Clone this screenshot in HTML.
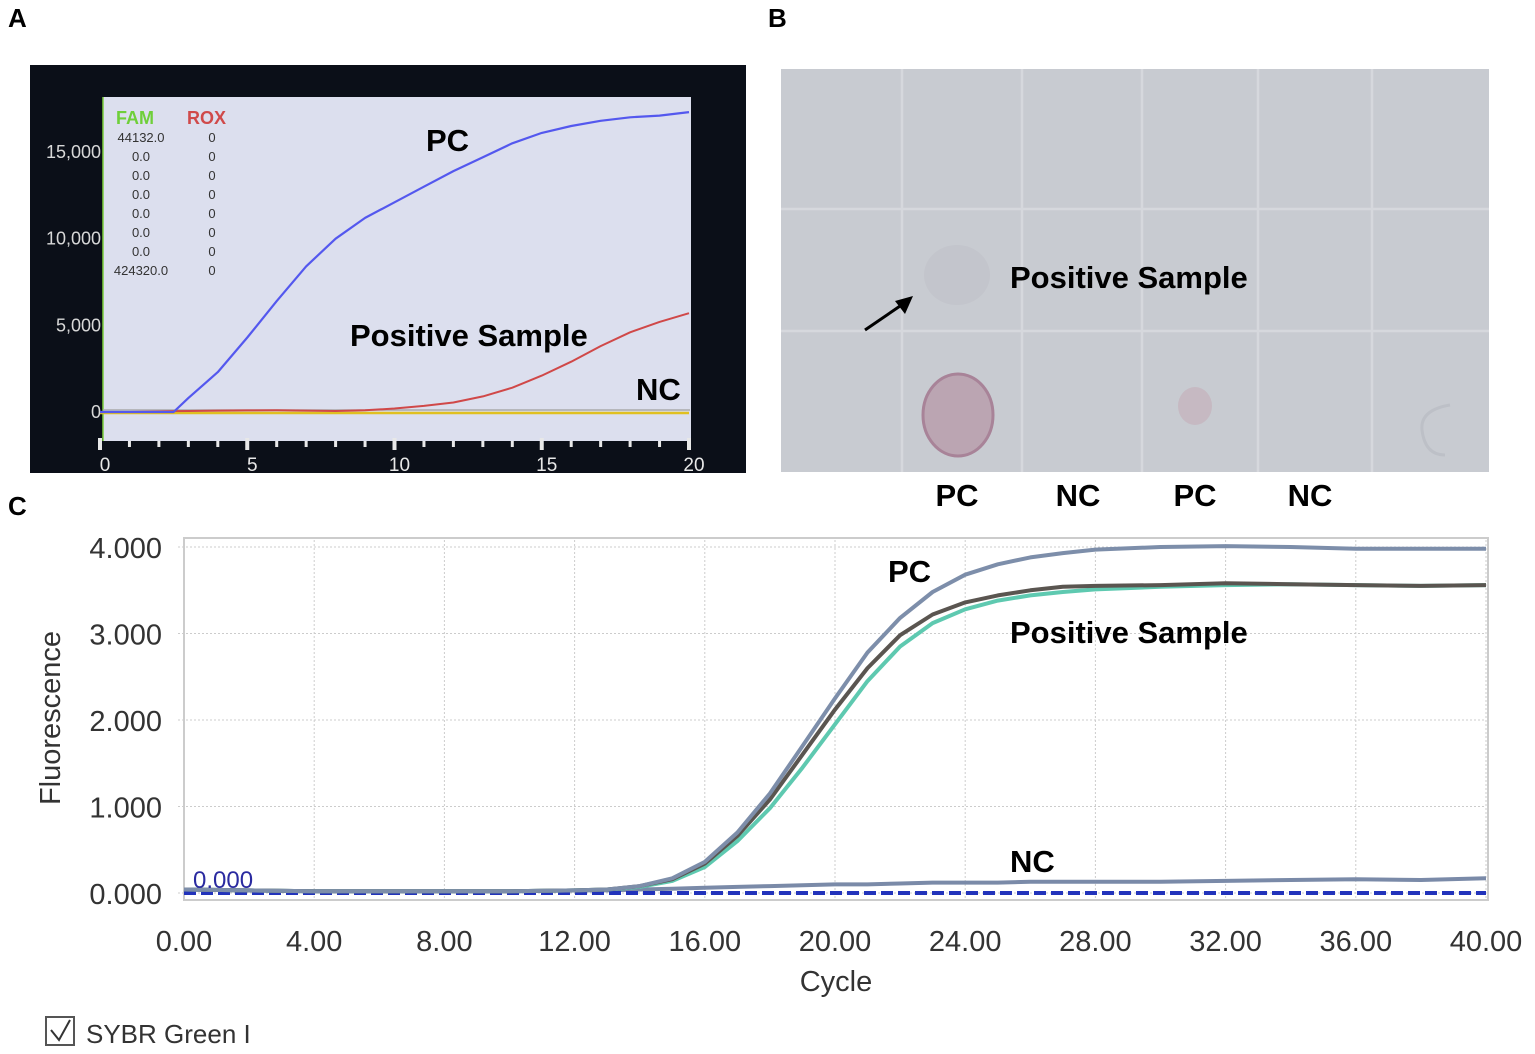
<!DOCTYPE html>
<html><head><meta charset="utf-8"><style>
html,body{margin:0;padding:0;background:#fff;}
svg{display:block;font-family:"Liberation Sans",Arial,sans-serif;}
</style></head><body>
<svg id="fig" width="1535" height="1054" viewBox="0 0 1535 1054">
<g font-weight="bold" font-size="26">
<text x="8" y="27">A</text>
<text x="768" y="27">B</text>
<text x="8" y="515">C</text>
</g>
<!-- Panel A -->
<g id="panelA">
<rect x="30" y="65" width="716" height="408" fill="#0b0f18"/>
<rect x="103" y="97" width="588" height="344" fill="#dcdfee"/>
<line x1="103" y1="97" x2="103" y2="441" stroke="#7ccf3c" stroke-width="1.5"/>
<g id="aYT" fill="#d8d8d8" font-size="18" text-anchor="end"></g>
<g id="aXT" fill="#e8e8e8" font-size="19" text-anchor="middle"></g>
<g font-size="18" font-weight="bold">
<text x="116" y="124" fill="#6fcf3a">FAM</text>
<text x="187" y="124" fill="#d04a4a">ROX</text>
</g>
<g font-size="13" fill="#333">
<text x="141" y="142" text-anchor="middle">44132.0</text><text x="212" y="142" text-anchor="middle">0</text>
<text x="141" y="161" text-anchor="middle">0.0</text><text x="212" y="161" text-anchor="middle">0</text>
<text x="141" y="180" text-anchor="middle">0.0</text><text x="212" y="180" text-anchor="middle">0</text>
<text x="141" y="199" text-anchor="middle">0.0</text><text x="212" y="199" text-anchor="middle">0</text>
<text x="141" y="218" text-anchor="middle">0.0</text><text x="212" y="218" text-anchor="middle">0</text>
<text x="141" y="237" text-anchor="middle">0.0</text><text x="212" y="237" text-anchor="middle">0</text>
<text x="141" y="256" text-anchor="middle">0.0</text><text x="212" y="256" text-anchor="middle">0</text>
<text x="141" y="275" text-anchor="middle">424320.0</text><text x="212" y="275" text-anchor="middle">0</text>
</g>
<g id="aLines"></g>
<g font-weight="bold" font-size="31" fill="#000">
<text x="426" y="151">PC</text>
<text x="350" y="346">Positive Sample</text>
<text x="636" y="400">NC</text>
</g>
</g>
<!-- Panel B -->
<g>
<rect x="781" y="69" width="708" height="403" fill="#c8cbd1"/>
<g stroke="#d6d8dd" stroke-width="2.5">
<line x1="902" y1="69" x2="902" y2="472"/><line x1="1022" y1="69" x2="1022" y2="472"/>
<line x1="1142" y1="69" x2="1142" y2="472"/><line x1="1258" y1="69" x2="1258" y2="472"/>
<line x1="1372" y1="69" x2="1372" y2="472"/>
<line x1="781" y1="209" x2="1489" y2="209"/><line x1="781" y1="331" x2="1489" y2="331"/>
</g>
<ellipse cx="957" cy="275" rx="33" ry="30" fill="#c3c5cc"/>
<ellipse cx="958" cy="415" rx="35" ry="41" fill="#bba5b2" stroke="#a88398" stroke-width="3"/>
<ellipse cx="1195" cy="406" rx="17" ry="19" fill="#c6b9c2"/>
<path d="M1450 405 Q1420 410 1422 430 Q1425 455 1445 455" fill="none" stroke="#bdc0c7" stroke-width="3"/>
<line x1="865" y1="330" x2="903" y2="304" stroke="#000" stroke-width="3"/>
<polygon points="913,296 895,301 905,314" fill="#000"/>
<text x="1010" y="288" font-weight="bold" font-size="31">Positive Sample</text>
<g font-weight="bold" font-size="31" text-anchor="middle">
<text x="957" y="506">PC</text><text x="1078" y="506">NC</text><text x="1195" y="506">PC</text><text x="1310" y="506">NC</text>
</g>
</g>
<!-- Panel C -->
<g>
<rect x="184" y="538" width="1304" height="362" fill="#fff" stroke="#ccc" stroke-width="2"/>
<g id="cGrid"></g>
<g id="cYT" font-size="29" fill="#333" text-anchor="end"></g>
<g id="cXT" font-size="29" fill="#333" text-anchor="middle"></g>
<text transform="translate(60,718) rotate(-90)" font-size="29" fill="#333" text-anchor="middle">Fluorescence</text>
<text x="836" y="991" font-size="29" fill="#333" text-anchor="middle">Cycle</text>
<g id="cLines"></g>
<text x="193" y="888" font-size="24" fill="#2a2aa0">0.000</text>
<g font-weight="bold" font-size="31">
<text x="888" y="582">PC</text>
<text x="1010" y="643">Positive Sample</text>
<text x="1010" y="872">NC</text>
</g>
<rect x="46" y="1017" width="28" height="28" fill="#fff" stroke="#555" stroke-width="2"/>
<path d="M51 1030 L59 1040 L70 1020" fill="none" stroke="#333" stroke-width="2"/>
<text x="86" y="1043" font-size="26" fill="#333">SYBR Green I</text>
</g>
</svg>
<script>
var NS="http://www.w3.org/2000/svg";
// Panel A data
var aCycles=[0,1,2,2.5,3,4,5,6,7,8,9,10,11,12,13,14,15,16,17,18,19,20];
var aPC=[0,0,0,0,800,2300,4300,6400,8400,10000,11200,12100,13000,13900,14700,15500,16100,16500,16800,17000,17100,17300];
var aSample=[0,0,30,50,60,80,90,100,80,60,100,200,350,550,900,1400,2100,2900,3800,4600,5200,5700];
var aNC=[0,0,0,0,0,0,0,0,0,0,0,0,0,0,0,0,0,0,0,0,0,0];
var aYTicks=[0,5000,10000,15000];
var aYTickLabels=["0","5,000","10,000","15,000"];
var aXTicks=[0,5,10,15,20];
// Panel C data
var cCycles=[0,2,4,6,8,10,12,13,14,15,16,17,18,19,20,21,22,23,24,25,26,27,28,30,32,34,36,38,40];
var cPC=[0.04,0.03,0.02,0.02,0.02,0.02,0.03,0.04,0.08,0.17,0.36,0.7,1.15,1.7,2.25,2.78,3.18,3.48,3.68,3.8,3.88,3.93,3.97,4.0,4.01,4.0,3.98,3.98,3.98];
var cSample=[0.04,0.03,0.02,0.02,0.02,0.02,0.03,0.04,0.08,0.16,0.34,0.66,1.08,1.6,2.12,2.6,2.98,3.22,3.36,3.44,3.5,3.54,3.55,3.56,3.58,3.57,3.56,3.55,3.56];
var cSample2=[0.04,0.03,0.02,0.02,0.02,0.02,0.03,0.04,0.07,0.14,0.3,0.6,0.98,1.45,1.95,2.45,2.85,3.12,3.28,3.38,3.44,3.48,3.51,3.54,3.56,3.57,3.56,3.55,3.56];
var cNC=[0.04,0.03,0.02,0.02,0.02,0.02,0.03,0.03,0.04,0.05,0.06,0.07,0.08,0.09,0.1,0.1,0.11,0.12,0.12,0.12,0.13,0.13,0.13,0.13,0.14,0.15,0.16,0.15,0.17];
var cYTicks=[0,1,2,3,4];
var cXTicks=[0,4,8,12,16,20,24,28,32,36,40];

function axX(v){return 100+v*(689-100)/20;}
function axY(v){return 412-v*(412-152)/15000;}
function cxX(v){return 184+v*(1486-184)/40;}
function cxY(v){return 893-v*(893-547)/4;}
function mk(tag,parent,attrs){var e=document.createElementNS(NS,tag);for(var k in attrs)e.setAttribute(k,attrs[k]);parent.appendChild(e);return e;}
function pts(xs,ys,fx,fy){return xs.map(function(x,i){return fx(x).toFixed(1)+","+fy(ys[i]).toFixed(1);}).join(" ");}

var g=document.getElementById("aYT");
aYTicks.forEach(function(v,i){var t=mk("text",g,{x:101,y:axY(v)+6});t.textContent=aYTickLabels[i];

});
g=document.getElementById("aXT");
for(var c=0;c<=20;c++){var big=c%5===0;var r=mk("rect",g,{x:axX(c)-(big?2:1.5),y:big?438:441,width:big?4:3,height:big?12:6,fill:"#e8e8e8"});

}
aXTicks.forEach(function(v){var t=mk("text",g,{x:axX(v)+5,y:471});t.textContent=String(v);

});
g=document.getElementById("aLines");
var l=mk("line",g,{x1:103,x2:690,y1:axY(0)-2,y2:axY(0)-2,stroke:"#aaa","stroke-width":1.5});


var p=mk("polyline",g,{points:pts(aCycles,aNC,axX,function(v){return axY(v)+1;}),fill:"none",stroke:"#e0c020","stroke-width":2.5});


p=mk("polyline",g,{points:pts(aCycles,aSample,axX,axY),fill:"none",stroke:"#d04848","stroke-width":2,"stroke-linejoin":"round"});


p=mk("polyline",g,{points:pts(aCycles,aPC,axX,axY),fill:"none",stroke:"#5458ee","stroke-width":2.2,"stroke-linejoin":"round"});



g=document.getElementById("cGrid");
cXTicks.forEach(function(v){var ln=mk("line",g,{x1:cxX(v),x2:cxX(v),y1:540,y2:898,stroke:"#ccc","stroke-dasharray":"2,2"});

});
cYTicks.forEach(function(v){var ln=mk("line",g,{x1:178,x2:1486,y1:cxY(v),y2:cxY(v),stroke:"#ccc","stroke-dasharray":"2,2"});

});
g=document.getElementById("cYT");
cYTicks.forEach(function(v){var t=mk("text",g,{x:162,y:cxY(v)+11});t.textContent=v.toFixed(3);

});
g=document.getElementById("cXT");
cXTicks.forEach(function(v){var t=mk("text",g,{x:cxX(v),y:951});t.textContent=v.toFixed(2);

});
g=document.getElementById("cLines");
p=mk("polyline",g,{points:pts(cCycles,cNC,cxX,cxY),fill:"none",stroke:"#7a8aa8","stroke-width":4});


var th=mk("line",g,{x1:184,x2:1486,y1:cxY(0),y2:cxY(0),stroke:"#2233bb","stroke-width":4,"stroke-dasharray":"12,5"});


p=mk("polyline",g,{points:pts(cCycles,cSample2,cxX,cxY),fill:"none",stroke:"#5ec9b0","stroke-width":4,"stroke-linejoin":"round"});


p=mk("polyline",g,{points:pts(cCycles,cSample,cxX,cxY),fill:"none",stroke:"#5a5550","stroke-width":4,"stroke-linejoin":"round"});


p=mk("polyline",g,{points:pts(cCycles,cPC,cxX,cxY),fill:"none",stroke:"#7d8eaa","stroke-width":4,"stroke-linejoin":"round"});


</script>
</body></html>
